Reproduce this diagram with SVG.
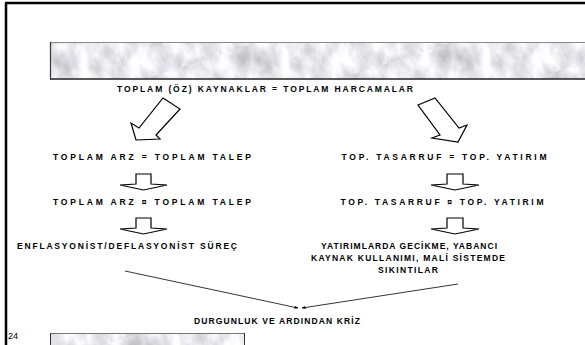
<svg xmlns="http://www.w3.org/2000/svg" width="585" height="345" viewBox="0 0 585 345">
<style>
.t{font-family:"Liberation Sans",Arial,sans-serif;font-weight:bold;font-size:8.5px;fill:#000;text-anchor:middle}
.ar{fill:#fff;stroke:#000;stroke-width:1.2;stroke-linejoin:miter}
.ln{stroke:#000;stroke-width:0.8;fill:none}
</style>
<defs>
<filter id="marble" x="0" y="0" width="100%" height="100%" color-interpolation-filters="sRGB">
<feTurbulence type="fractalNoise" baseFrequency="0.06 0.035" numOctaves="4" seed="11" result="n"/>
<feColorMatrix in="n" type="matrix" values="0.45 0 0 0 0.67  0.45 0 0 0 0.67  0.45 0 0 0 0.69  0 0 0 0 1"/>
</filter>
<pattern id="mp" width="96" height="60" patternUnits="userSpaceOnUse" patternTransform="rotate(-18)">
<rect width="96" height="60" filter="url(#marble)"/>
</pattern>
<marker id="ah" viewBox="0 0 10 10" refX="9" refY="5" markerWidth="5" markerHeight="5" orient="auto">
<path d="M0,1 L10,5 L0,9 z" fill="#000"/>
</marker>
</defs>
<rect width="585" height="345" fill="#fff"/>
<g id="frame">
<line x1="5" y1="3" x2="585" y2="3" stroke="#000" stroke-width="2.5"/>
<line x1="6" y1="3" x2="6" y2="345" stroke="#000" stroke-width="2.5"/>
</g>
<g id="banner">
<rect x="50" y="42" width="535" height="37" fill="url(#mp)"/>
<line x1="50" y1="42.5" x2="585" y2="42.5" stroke="#888" stroke-width="1.2"/>
<line x1="50" y1="79" x2="585" y2="79" stroke="#222" stroke-width="1.3"/>
<line x1="50.5" y1="42" x2="50.5" y2="79.5" stroke="#333" stroke-width="1.2"/>
</g>
<g id="footer-bar">
<rect x="50" y="333" width="195" height="14" fill="url(#mp)"/>
<line x1="50" y1="333.5" x2="245" y2="333.5" stroke="#777" stroke-width="1"/>
<line x1="50.5" y1="333" x2="50.5" y2="345" stroke="#333" stroke-width="1"/>
<line x1="244.5" y1="333" x2="244.5" y2="345" stroke="#333" stroke-width="1"/>
</g>
<g id="title"><text class="t" x="265" y="92" textLength="296" lengthAdjust="spacing">TOPLAM (ÖZ) KAYNAKLAR = TOPLAM HARCAMALAR</text></g>
<g id="n-arz1"><text class="t" x="152" y="160" textLength="198" lengthAdjust="spacing">TOPLAM ARZ = TOPLAM TALEP</text></g>
<g id="n-arz2"><text class="t" x="152" y="205" textLength="198" lengthAdjust="spacing">TOPLAM ARZ ¤ TOPLAM TALEP</text></g>
<g id="n-tas1"><text class="t" x="444" y="160" textLength="205" lengthAdjust="spacing">TOP. TASARRUF = TOP. YATIRIM</text></g>
<g id="n-tas2"><text class="t" x="442" y="205" textLength="203" lengthAdjust="spacing">TOP. TASARRUF ¤ TOP. YATIRIM</text></g>
<g id="n-enf"><text class="t" x="127" y="249" textLength="220" lengthAdjust="spacing">ENFLASYONİST/DEFLASYONİST SÜREÇ</text></g>
<g id="n-yat">
<text class="t" x="409" y="249" textLength="176" lengthAdjust="spacing">YATIRIMLARDA GECİKME, YABANCI</text>
<text class="t" x="408" y="261" textLength="194" lengthAdjust="spacing">KAYNAK KULLANIMI, MALİ SİSTEMDE</text>
<text class="t" x="408" y="273" textLength="60" lengthAdjust="spacing">SIKINTILAR</text>
</g>
<g id="n-kriz"><text class="t" x="277" y="324" textLength="166" lengthAdjust="spacing">DURGUNLUK VE ARDINDAN KRİZ</text></g>
<g id="page"><text x="8" y="339" font-family="Liberation Sans,Arial,sans-serif" font-size="9" fill="#000">24</text></g>
<g id="connectors">
<polygon class="ar" points="163,98 180,109 156,135 160,139 136,140 131,123 139,128"/>
<polygon class="ar" points="418,105 435,98 459,128 467,125 458,142 432,138 440,135"/>
<polygon class="ar" points="136,174 151,174 151,184 167,185 143.5,190 120,185 136,184"/>
<polygon class="ar" points="136,218 151,218 151,228 167,229 143.5,234 120,229 136,228"/>
<polygon class="ar" points="447,174 463,174 463,184 479,185 455,190 431,185 447,184"/>
<polygon class="ar" points="447,218 463,218 463,228 479,229 455,234 431,229 447,228"/>
<line class="ln" x1="125" y1="271" x2="298" y2="308" marker-end="url(#ah)"/>
<line class="ln" x1="458" y1="284" x2="302" y2="308" marker-end="url(#ah)"/>
</g>
</svg>
